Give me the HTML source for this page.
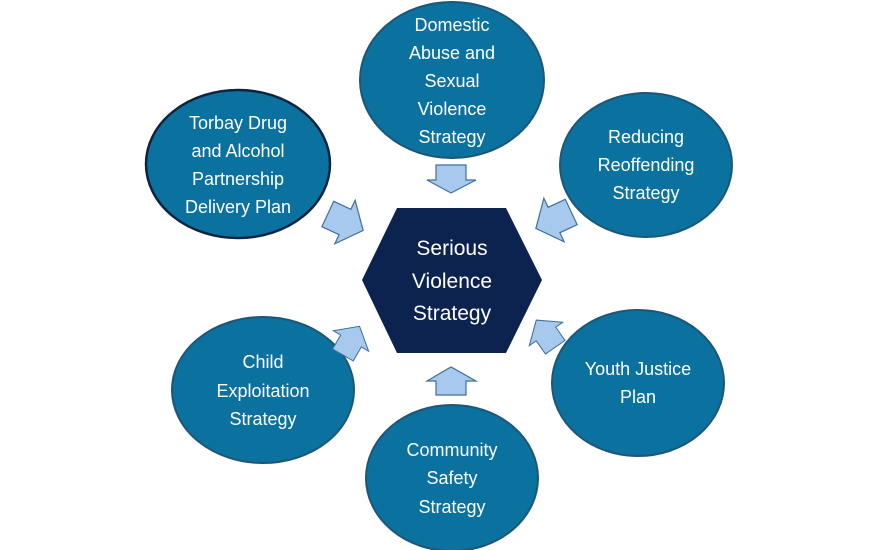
<!DOCTYPE html>
<html><head><style>
html,body{margin:0;padding:0;background:#fff;}
svg{display:block;}
text{font-family:"Liberation Sans",Arial,sans-serif;fill:#fff;font-size:18px;text-anchor:middle;}
text.h{font-size:21px;}
</style></head><body>
<svg width="896" height="550" viewBox="0 0 896 550">
<defs>
<polygon id="a" points="-19,-14 0,-14 0,-24 20,0 0,24 0,14 -19,14"/>
</defs>
<g fill="#0b72a0" stroke="#1d5676" stroke-width="2">
<ellipse cx="452" cy="80" rx="92" ry="78"/>
<ellipse cx="238" cy="164" rx="92" ry="74" stroke="#0c2440" stroke-width="2.5"/>
<ellipse cx="646" cy="165" rx="86" ry="72"/>
<ellipse cx="638" cy="383" rx="86" ry="73"/>
<ellipse cx="452" cy="478" rx="86" ry="73"/>
<ellipse cx="263" cy="390" rx="91" ry="73"/>
</g>
<polygon points="397,208 506,208 542,280 506,353 397,353 362,280" fill="#0c2350"/>
<g fill="#a7c9ee" stroke="#3f6f9a" stroke-width="1.2">
<polygon points="436,165 466,165 466,180 476,180 451,193 427,180 436,180"/>
<polygon points="436,395 466,395 466,381 476,381 451,367 427,381 436,381"/>
<use href="#a" transform="translate(345,222) rotate(25)"/>
<use href="#a" transform="translate(554,220) rotate(155)"/>
<use href="#a" transform="translate(351,341) rotate(-60) scale(0.85)"/>
<use href="#a" transform="translate(546,334) rotate(-125) scale(0.85)"/>
</g>
<text class="h" x="452" y="255">Serious</text>
<text class="h" x="452" y="288">Violence</text>
<text class="h" x="452" y="320">Strategy</text>
<text x="452" y="31">Domestic</text>
<text x="452" y="59">Abuse and</text>
<text x="452" y="87">Sexual</text>
<text x="452" y="115">Violence</text>
<text x="452" y="143">Strategy</text>
<text x="238" y="129">Torbay Drug</text>
<text x="238" y="157">and Alcohol</text>
<text x="238" y="185">Partnership</text>
<text x="238" y="213">Delivery Plan</text>
<text x="646" y="143">Reducing</text>
<text x="646" y="171">Reoffending</text>
<text x="646" y="199">Strategy</text>
<text x="638" y="375">Youth Justice</text>
<text x="638" y="403">Plan</text>
<text x="452" y="456">Community</text>
<text x="452" y="484">Safety</text>
<text x="452" y="513">Strategy</text>
<text x="263" y="368">Child</text>
<text x="263" y="397">Exploitation</text>
<text x="263" y="425">Strategy</text>
</svg>
</body></html>
